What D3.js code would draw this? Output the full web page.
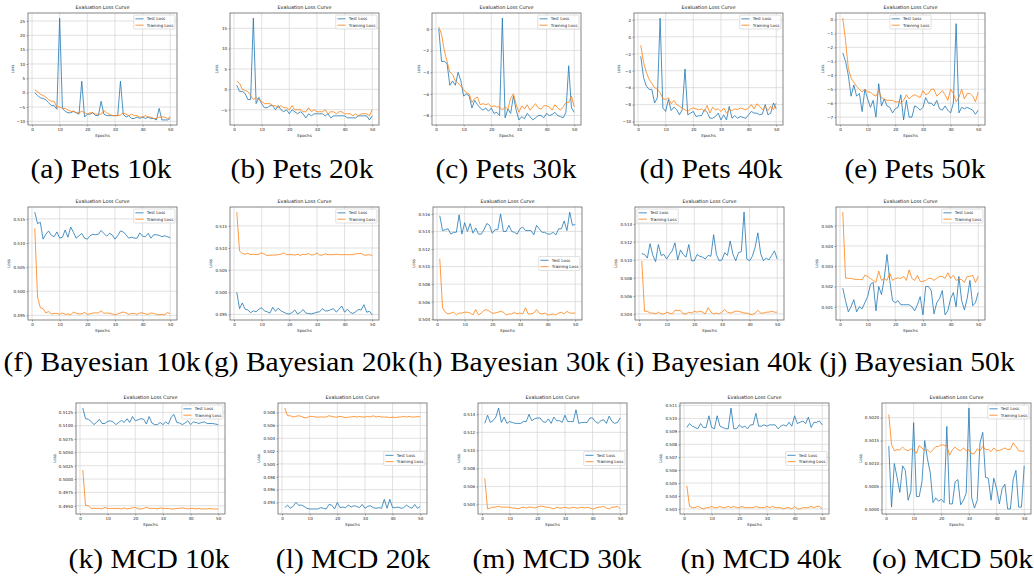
<!DOCTYPE html>
<html>
<head>
<meta charset="utf-8">
<script src="https://cdn.jsdelivr.net/npm/d3@7"></script>
<style>
  body { margin: 0; background: #fff; }
  svg { display: block; }
  .cap { font-family: "Liberation Serif", "Times New Roman", serif; }
  .small { font-family: "DejaVu Sans", sans-serif; }
</style>
</head>
<body>
<svg id="fig" width="1034" height="579"></svg>
<script>
// ---- data ----
const epochs = d3.range(1, 51);
const xTicks = [0, 10, 20, 30, 40, 50];

const captions = [
  "(a) Pets 10k", "(b) Pets 20k", "(c) Pets 30k", "(d) Pets 40k", "(e) Pets 50k",
  "(f) Bayesian 10k", "(g) Bayesian 20k", "(h) Bayesian 30k", "(i) Bayesian 40k", "(j) Bayesian 50k",
  "(k) MCD 10k", "(l) MCD 20k", "(m) MCD 30k", "(n) MCD 40k", "(o) MCD 50k"
];

const testA = [0, -1, -1.8, -2, -2.5, -3.5, -4.5, -4.5, -5.8, 26,
  -5.5, -6.5, -7, -7, -6.5, -7, -7.5, 4, -8.5, -7.5,
  -7.5, -7, -8, -8, -3, -7.5, -8, -8, -8, -8,
  -8, 4, -7.5, -8.5, -8, -9, -9, -8.5, -9, -8.5,
  -9, -8.5, -9, -9, -9.5, -5.5, -9.5, -9.5, -9.5, -9];
const trainA = [1, 0.3, -0.5, -1, -1.5, -2.5, -3, -3, -5, -5,
  -5.5, -5.5, -6, -6.5, -6.5, -7, -7, -6.5, -7, -7.5,
  -7, -7, -7.5, -7.5, -7.5, -6.2, -7, -7.5, -8, -8,
  -8, -7.8, -7, -7.5, -8, -7.5, -8, -8, -8.5, -8.5,
  -8, -8.5, -8.5, -9, -9, -8.5, -8.5, -8.5, -9, -8.5];

const testB = [1, -0.5, -0.5, -1, -2.5, -2.5, 17.5, -3.5, -2, -3.5,
  -4.5, -4.5, -4, -4, -5, -4, -5, -5.5, -5, -6,
  -5, -5.5, -6, -5.5, -6, -7, -6, -6.5, -6, -6,
  -6, -6, -6.5, -6, -7, -6.5, -6.5, -6.5, -6.5, -6.5,
  -7, -7, -7, -7, -6.5, -6.5, -6.5, -6.5, -7.5, -6.5];
const trainB = [2, 1.5, 0, -0.3, -0.5, -1.5, -2.5, -2, -2.5, -3,
  -3.5, -3.5, -3.5, -4, -4, -4.5, -4, -4.5, -4.5, -5,
  -4, -5, -5, -5, -5.5, -5.5, -4.5, -5.5, -5, -5.5,
  -5.5, -5.5, -5, -6, -5.5, -5.5, -6, -5.5, -5.5, -6,
  -6, -6, -6.5, -6, -6.5, -6, -6, -6, -6.5, -5];

const testC = [0, -3, -3, -3.2, -5.2, -4.8, -5.2, -4, -4.8, -6.2,
  -6, -6.2, -7.3, -6.6, -7, -7.3, -7.5, -7.3, -7.6, -7.3,
  -7.8, -7.7, -8, 1, -8.2, -7.4, -7.8, -6.2, -7.5, -8.4,
  -8.1, -8.3, -7.8, -8.1, -8.4, -8.2, -8, -8, -8.2, -7.8,
  -8, -7.9, -7.7, -8, -8.1, -8.2, -7.7, -3.4, -7.3, -7.7];
const trainC = [0.2, -0.5, -2, -3, -4, -4.2, -4.8, -5, -5.3, -5.6,
  -5.9, -6, -6.8, -6.4, -6.3, -7, -6.9, -7, -6.9, -7.2,
  -7.1, -7.2, -7.2, -7.5, -7.2, -7.4, -6.4, -6, -7, -7.7,
  -7.1, -7.4, -7, -7.5, -7.2, -6.9, -7.3, -7.4, -7.1, -7.1,
  -7.2, -7.5, -7, -7.3, -7.5, -7.2, -6.8, -6.8, -6.2, -7.2];

const testD = [-2.3, -4.8, -5.8, -6.2, -6.2, -7.8, -7.2, 2.2, -8.4, -8.8,
  -7.4, -8.7, -8.3, -8.6, -9.2, -8.6, -3.8, -9.2, -9, -8.8,
  -9.4, -9.3, -9.3, -8.6, -8.9, -9.6, -9.6, -9.4, -9, -9.8,
  -9.2, -9.8, -8.2, -9.6, -9.3, -9.6, -9.4, -9.5, -9.6, -9.2,
  -8.8, -9, -9, -9.2, -9.1, -8, -9.2, -9, -7.8, -8.5];
const trainD = [-1, -3, -4.2, -5, -5.5, -6, -6.2, -6.6, -7.3, -7.4,
  -7.2, -7.9, -7.5, -8, -8.2, -8.4, -8.6, -8.8, -8.5, -8.4,
  -8.5, -8.6, -8.5, -8.8, -8.1, -9, -8.3, -8.6, -8.5, -8.8,
  -8.4, -9, -8.6, -8.7, -8.5, -8.6, -8.4, -8.5, -8.6, -8.4,
  -8, -8.5, -7.9, -8.2, -8.6, -8.2, -8.7, -8.2, -8.6, -7.8];

const testE = [-2.4, -3, -4, -5.5, -4.7, -5.5, -5.3, -6.6, -5, -5.7,
  -6.3, -5.8, -7, -4.6, -6.2, -5.7, -6.2, -6.3, -6.7, -6.4,
  -6.3, -5.4, -7.2, -5.8, -7, -7, -6.2, -6.3, -6.5, -6.3,
  -5.6, -6, -6, -6.2, -5.8, -6.4, -6.5, -6.2, -6.5, -6.7,
  -6, -0.3, -6.7, -6.3, -6.4, -6.3, -6.4, -6.5, -6.8, -6.5];
const trainE = [0.1, -1.5, -3.5, -4.2, -4.5, -4.8, -5, -5.2, -5, -5.2,
  -5.2, -5.4, -5.5, -5.1, -5.6, -5.7, -5.8, -5.8, -5.8, -5.9,
  -5.9, -6, -5.8, -5.4, -5.7, -5.5, -5.4, -5.5, -5.6, -5.1,
  -5.4, -5.3, -5, -5, -5.5, -5.3, -5.1, -5.4, -5.8, -5,
  -5.3, -5.9, -5.6, -5, -5.7, -5.3, -5.3, -5.5, -5.9, -5.2];

const testF = [0.5164, 0.5140, 0.5143, 0.5108, 0.5118, 0.5125, 0.5116, 0.5113, 0.5123, 0.5110,
  0.5112, 0.5127, 0.5112, 0.5133, 0.5122, 0.5110, 0.5115, 0.5120, 0.5110, 0.5108,
  0.5115, 0.5118, 0.5117, 0.5118, 0.5126, 0.5120, 0.5114, 0.5120, 0.5117, 0.5108,
  0.5115, 0.5125, 0.5123, 0.5117, 0.5110, 0.5112, 0.5110, 0.5110, 0.5121, 0.5114,
  0.5113, 0.5120, 0.5110, 0.5117, 0.5117, 0.5116, 0.5113, 0.5115, 0.5113, 0.5111];
const trainF = [0.5130, 0.4988, 0.4966, 0.4964, 0.4955, 0.4958, 0.4953, 0.4954, 0.4954, 0.4952,
  0.4955, 0.4952, 0.4953, 0.4951, 0.4957, 0.4954, 0.4953, 0.4953, 0.4956, 0.4952,
  0.4953, 0.4955, 0.4955, 0.4955, 0.4959, 0.4954, 0.4955, 0.4954, 0.4953, 0.4951,
  0.4953, 0.4955, 0.4957, 0.4955, 0.4952, 0.4954, 0.4954, 0.4952, 0.4955, 0.4955,
  0.4953, 0.4952, 0.4955, 0.4954, 0.4952, 0.4951, 0.4952, 0.4951, 0.4956, 0.4953];

const testG = [0.5000, 0.4963, 0.4976, 0.4962, 0.4960, 0.4954, 0.4958, 0.4956, 0.4962, 0.4965,
  0.4958, 0.4956, 0.4953, 0.4966, 0.4957, 0.4964, 0.4958, 0.4955, 0.4952, 0.4951,
  0.4954, 0.4960, 0.4951, 0.4955, 0.4961, 0.4953, 0.4952, 0.4951, 0.4953, 0.4955,
  0.4956, 0.4963, 0.4958, 0.4958, 0.4961, 0.4963, 0.4955, 0.4962, 0.4969, 0.4955,
  0.4962, 0.4955, 0.4952, 0.4956, 0.4961, 0.4960, 0.4972, 0.4955, 0.4957, 0.4949];
const trainG = [0.5181, 0.5093, 0.5088, 0.5086, 0.5088, 0.5085, 0.5086, 0.5085, 0.5086, 0.5089,
  0.5086, 0.5083, 0.5084, 0.5084, 0.5084, 0.5085, 0.5086, 0.5089, 0.5085, 0.5085,
  0.5085, 0.5084, 0.5086, 0.5083, 0.5086, 0.5085, 0.5088, 0.5084, 0.5085, 0.5089,
  0.5084, 0.5084, 0.5087, 0.5085, 0.5085, 0.5085, 0.5086, 0.5085, 0.5085, 0.5085,
  0.5085, 0.5085, 0.5085, 0.5087, 0.5087, 0.5088, 0.5084, 0.5084, 0.5085, 0.5083];

const testH = [0.5158, 0.5141, 0.5142, 0.5143, 0.5137, 0.5139, 0.5139, 0.5159, 0.5137, 0.5150,
  0.5140, 0.5149, 0.5138, 0.5144, 0.5137, 0.5137, 0.5142, 0.5149, 0.5147, 0.5138,
  0.5142, 0.5142, 0.5160, 0.5140, 0.5140, 0.5147, 0.5140, 0.5139, 0.5137, 0.5143,
  0.5145, 0.5141, 0.5141, 0.5141, 0.5136, 0.5147, 0.5143, 0.5139, 0.5139, 0.5137,
  0.5137, 0.5139, 0.5136, 0.5143, 0.5143, 0.5152, 0.5141, 0.5162, 0.5147, 0.5148];
const trainH = [0.5109, 0.5053, 0.5048, 0.5046, 0.5047, 0.5048, 0.5045, 0.5047, 0.5047, 0.5048,
  0.5048, 0.5047, 0.5045, 0.5051, 0.5045, 0.5047, 0.5050, 0.5051, 0.5049, 0.5047,
  0.5047, 0.5048, 0.5049, 0.5048, 0.5045, 0.5046, 0.5046, 0.5048, 0.5046, 0.5047,
  0.5046, 0.5053, 0.5046, 0.5046, 0.5047, 0.5051, 0.5047, 0.5046, 0.5047, 0.5045,
  0.5045, 0.5046, 0.5045, 0.5047, 0.5048, 0.5046, 0.5049, 0.5047, 0.5047, 0.5047];

const testI = [0.5107, 0.5106, 0.5102, 0.5118, 0.5105, 0.5098, 0.5117, 0.5105, 0.5106, 0.5101,
  0.5106, 0.5110, 0.5119, 0.5100, 0.5111, 0.5106, 0.5103, 0.5117, 0.5099, 0.5099,
  0.5106, 0.5104, 0.5103, 0.5101, 0.5105, 0.5104, 0.5128, 0.5106, 0.5099, 0.5100,
  0.5108, 0.5105, 0.5121, 0.5106, 0.5099, 0.5108, 0.5109, 0.5153, 0.5101, 0.5099,
  0.5104, 0.5114, 0.5130, 0.5107, 0.5099, 0.5102, 0.5100, 0.5105, 0.5110, 0.5101];
const trainI = [0.5099, 0.5043, 0.5043, 0.5041, 0.5041, 0.5040, 0.5042, 0.5040, 0.5040, 0.5042,
  0.5041, 0.5040, 0.5044, 0.5044, 0.5044, 0.5040, 0.5040, 0.5042, 0.5041, 0.5043,
  0.5042, 0.5043, 0.5042, 0.5040, 0.5047, 0.5042, 0.5040, 0.5041, 0.5040, 0.5042,
  0.5045, 0.5042, 0.5041, 0.5042, 0.5043, 0.5043, 0.5042, 0.5041, 0.5041, 0.5040,
  0.5039, 0.5041, 0.5044, 0.5041, 0.5041, 0.5042, 0.5042, 0.5043, 0.5042, 0.5042];

const testJ = [0.50192, 0.50130, 0.50075, 0.50100, 0.50135, 0.50075, 0.50100, 0.50090, 0.50120, 0.50150,
  0.50210, 0.50220, 0.50080, 0.50200, 0.50160, 0.50240, 0.50358, 0.50230, 0.50130, 0.50120,
  0.50130, 0.50110, 0.50110, 0.50110, 0.50110, 0.50100, 0.50080, 0.50110, 0.50150, 0.50060,
  0.50200, 0.50200, 0.50180, 0.50065, 0.50120, 0.50140, 0.50180, 0.50060, 0.50080, 0.50140,
  0.50170, 0.50100, 0.50250, 0.50130, 0.50085, 0.50140, 0.50230, 0.50105, 0.50120, 0.50170];
const trainJ = [0.50567, 0.50242, 0.50240, 0.50240, 0.50236, 0.50235, 0.50235, 0.50233, 0.50256, 0.50250,
  0.50240, 0.50230, 0.50220, 0.50276, 0.50230, 0.50240, 0.50230, 0.50266, 0.50230, 0.50240,
  0.50242, 0.50240, 0.50250, 0.50230, 0.50282, 0.50240, 0.50230, 0.50255, 0.50225, 0.50225,
  0.50230, 0.50240, 0.50240, 0.50230, 0.50240, 0.50250, 0.50250, 0.50240, 0.50268, 0.50240,
  0.50255, 0.50230, 0.50236, 0.50234, 0.50220, 0.50250, 0.50250, 0.50255, 0.50220, 0.50250];

const testK = [0.5133, 0.5113, 0.5112, 0.5108, 0.5102, 0.5106, 0.5112, 0.5104, 0.5104, 0.5108,
  0.5109, 0.5107, 0.5102, 0.5106, 0.5110, 0.5106, 0.5113, 0.5106, 0.5117, 0.5109,
  0.5111, 0.5113, 0.5112, 0.5103, 0.5117, 0.5105, 0.5102, 0.5102, 0.5106, 0.5102,
  0.5107, 0.5103, 0.5116, 0.5121, 0.5106, 0.5105, 0.5102, 0.5105, 0.5109, 0.5102,
  0.5107, 0.5106, 0.5104, 0.5106, 0.5107, 0.5104, 0.5104, 0.5104, 0.5103, 0.5102];
const trainK = [0.5017, 0.4951, 0.4950, 0.4945, 0.4945, 0.4945, 0.4945, 0.4944, 0.4947, 0.4945,
  0.4945, 0.4945, 0.4945, 0.4945, 0.4944, 0.4946, 0.4944, 0.4945, 0.4946, 0.4947,
  0.4944, 0.4944, 0.4945, 0.4947, 0.4945, 0.4945, 0.4945, 0.4944, 0.4946, 0.4945,
  0.4945, 0.4945, 0.4944, 0.4944, 0.4945, 0.4945, 0.4946, 0.4945, 0.4944, 0.4945,
  0.4945, 0.4944, 0.4945, 0.4944, 0.4944, 0.4944, 0.4945, 0.4944, 0.4944, 0.4944];

const testL = [0.4932, 0.4936, 0.4931, 0.4934, 0.4940, 0.4936, 0.4936, 0.4934, 0.4931, 0.4930,
  0.4930, 0.4930, 0.4930, 0.4932, 0.4931, 0.4930, 0.4937, 0.4936, 0.4930, 0.4940,
  0.4932, 0.4933, 0.4932, 0.4936, 0.4933, 0.4935, 0.4934, 0.4932, 0.4937, 0.4931,
  0.4934, 0.4935, 0.4932, 0.4931, 0.4932, 0.4931, 0.4945, 0.4931, 0.4945, 0.4932,
  0.4932, 0.4933, 0.4931, 0.4932, 0.4936, 0.4933, 0.4931, 0.4937, 0.4931, 0.4934];
const trainL = [0.5087, 0.5075, 0.5075, 0.5073, 0.5074, 0.5075, 0.5074, 0.5072, 0.5072, 0.5074,
  0.5074, 0.5073, 0.5073, 0.5073, 0.5073, 0.5073, 0.5075, 0.5074, 0.5073, 0.5073,
  0.5074, 0.5073, 0.5072, 0.5073, 0.5073, 0.5074, 0.5073, 0.5074, 0.5073, 0.5073,
  0.5074, 0.5073, 0.5075, 0.5073, 0.5074, 0.5073, 0.5073, 0.5073, 0.5072, 0.5073,
  0.5072, 0.5073, 0.5073, 0.5074, 0.5073, 0.5074, 0.5073, 0.5073, 0.5074, 0.5073];

const testM = [0.5130, 0.5139, 0.5131, 0.5133, 0.5137, 0.5147, 0.5131, 0.5137, 0.5130, 0.5132,
  0.5131, 0.5130, 0.5130, 0.5130, 0.5132, 0.5132, 0.5140, 0.5133, 0.5135, 0.5136,
  0.5136, 0.5132, 0.5131, 0.5135, 0.5130, 0.5137, 0.5133, 0.5133, 0.5131, 0.5139,
  0.5132, 0.5132, 0.5132, 0.5145, 0.5130, 0.5131, 0.5131, 0.5131, 0.5136, 0.5136,
  0.5132, 0.5130, 0.5133, 0.5134, 0.5130, 0.5138, 0.5132, 0.5130, 0.5131, 0.5136];
const trainM = [0.5069, 0.5035, 0.5036, 0.5037, 0.5037, 0.5038, 0.5037, 0.5037, 0.5037, 0.5037,
  0.5036, 0.5036, 0.5035, 0.5036, 0.5037, 0.5036, 0.5037, 0.5037, 0.5036, 0.5037,
  0.5038, 0.5038, 0.5037, 0.5037, 0.5036, 0.5035, 0.5037, 0.5036, 0.5036, 0.5037,
  0.5036, 0.5036, 0.5037, 0.5036, 0.5036, 0.5037, 0.5036, 0.5037, 0.5036, 0.5035,
  0.5036, 0.5037, 0.5037, 0.5038, 0.5036, 0.5035, 0.5037, 0.5037, 0.5038, 0.5035];

const testN = [0.5093, 0.5096, 0.5094, 0.5093, 0.5092, 0.5096, 0.5093, 0.5093, 0.5102, 0.5093,
  0.5092, 0.5102, 0.5094, 0.5093, 0.5092, 0.5092, 0.5108, 0.5092, 0.5092, 0.5095,
  0.5093, 0.5094, 0.5092, 0.5095, 0.5095, 0.5104, 0.5094, 0.5094, 0.5095, 0.5094,
  0.5095, 0.5095, 0.5095, 0.5092, 0.5094, 0.5095, 0.5094, 0.5097, 0.5094, 0.5102,
  0.5096, 0.5097, 0.5098, 0.5096, 0.5101, 0.5093, 0.5097, 0.5097, 0.5098, 0.5095];
const trainN = [0.5048, 0.5032, 0.5031, 0.5031, 0.5032, 0.5031, 0.5030, 0.5031, 0.5031, 0.5032,
  0.5031, 0.5031, 0.5032, 0.5031, 0.5031, 0.5032, 0.5031, 0.5032, 0.5031, 0.5031,
  0.5032, 0.5031, 0.5031, 0.5031, 0.5031, 0.5032, 0.5031, 0.5031, 0.5031, 0.5032,
  0.5031, 0.5032, 0.5031, 0.5031, 0.5031, 0.5030, 0.5031, 0.5031, 0.5030, 0.5032,
  0.5030, 0.5030, 0.5031, 0.5031, 0.5031, 0.5032, 0.5031, 0.5032, 0.5032, 0.5030];

const testO = [0.50138, 0.50005, 0.50100, 0.50070, 0.50037, 0.50095, 0.50085, 0.50020, 0.50040, 0.50189,
  0.50028, 0.50028, 0.50060, 0.50150, 0.50110, 0.50080, 0.50015, 0.50025, 0.50018, 0.50022,
  0.50015, 0.50181, 0.50012, 0.50012, 0.50060, 0.50065, 0.50010, 0.50020, 0.50035, 0.50221,
  0.50025, 0.50003, 0.50020, 0.50145, 0.50168, 0.50070, 0.50068, 0.50020, 0.50068, 0.50045,
  0.50012, 0.50045, 0.50055, 0.50001, 0.50001, 0.50065, 0.50085, 0.50005, 0.50005, 0.50095];
const trainO = [0.50207, 0.50141, 0.50128, 0.50130, 0.50130, 0.50136, 0.50130, 0.50128, 0.50132, 0.50130,
  0.50122, 0.50139, 0.50134, 0.50128, 0.50130, 0.50124, 0.50130, 0.50137, 0.50137, 0.50141,
  0.50140, 0.50138, 0.50118, 0.50130, 0.50136, 0.50130, 0.50128, 0.50134, 0.50128, 0.50130,
  0.50121, 0.50122, 0.50132, 0.50127, 0.50138, 0.50130, 0.50131, 0.50126, 0.50134, 0.50128,
  0.50128, 0.50131, 0.50134, 0.50130, 0.50131, 0.50145, 0.50137, 0.50128, 0.50127, 0.50127];

const testSeries = [testA, testB, testC, testD, testE, testF, testG, testH, testI, testJ, testK, testL, testM, testN, testO];
const trainSeries = [trainA, trainB, trainC, trainD, trainE, trainF, trainG, trainH, trainI, trainJ, trainK, trainL, trainM, trainN, trainO];

const yTicks = [
  [-10, -5, 0, 5, 10, 15, 20, 25],
  [-5, 0, 5, 10, 15],
  [-8, -6, -4, -2, 0],
  [-10, -8, -6, -4, -2, 0, 2],
  [-7, -6, -5, -4, -3, -2, -1, 0],
  [0.495, 0.500, 0.505, 0.510, 0.515],
  [0.495, 0.500, 0.505, 0.510, 0.515],
  [0.504, 0.506, 0.508, 0.510, 0.512, 0.514, 0.516],
  [0.504, 0.506, 0.508, 0.510, 0.512, 0.514],
  [0.501, 0.502, 0.503, 0.504, 0.505],
  [0.4950, 0.4975, 0.5000, 0.5025, 0.5050, 0.5075, 0.5100, 0.5125],
  [0.494, 0.496, 0.498, 0.500, 0.502, 0.504, 0.506, 0.508],
  [0.504, 0.506, 0.508, 0.510, 0.512, 0.514],
  [0.503, 0.504, 0.505, 0.506, 0.507, 0.508, 0.509, 0.510, 0.511],
  [0.5000, 0.5005, 0.5010, 0.5015, 0.5020]
];
const yFormats = ["d", "d", "d", "d", "d", ".3f", ".3f", ".3f", ".3f", ".3f", ".4f", ".3f", ".3f", ".3f", ".4f"];
const legendLoc = ["upper right", "upper right", "upper right", "upper right", "upper center",
  "upper right", "upper right", "center right", "upper left", "upper right",
  "upper right", "center right", "center right", "center right", "upper right"];
const seriesNames = ["Test Loss", "Training Loss"];

// ---- layout ----
const colLeft = [[28, 230, 432, 634, 836], [28, 230, 433, 635, 836], [76, 278, 478, 680, 882]];
const rowTop = [13, 207, 403];
const rowH = [112, 113, 111];
const axW = 149;
const capX = [[101, 302, 506, 711, 915], [102, 305, 509, 714, 917], [149, 353, 557, 761, 960]];
const capBase = [178, 371, 568];

const blue = "#1f77b4", orange = "#ff7f0e";
const fs = 4.1;
const capScale = 1.12;

const svg = d3.select("#fig");
svg.append("rect").attr("width", 1034).attr("height", 579).attr("fill", "#fff");

const line = (x, y) => d3.line().x((d, j) => x(epochs[j])).y(d => y(d));

captions.forEach((cap, i) => {
  const r = Math.floor(i / 5), c = i % 5;
  const left = colLeft[r][c], top = rowTop[r], h = rowH[r];
  const test = testSeries[i], train = trainSeries[i];
  const [lo, hi] = d3.extent(test.concat(train));
  const pad = (hi - lo) * 0.05;

  const x = d3.scaleLinear().domain([1 - 49 * 0.05, 50 + 49 * 0.05]).range([left, left + axW]);
  const y = d3.scaleLinear().domain([lo - pad, hi + pad]).range([top + h, top]);

  const g = svg.append("g");

  // grid
  g.selectAll(".gx").data(xTicks).join("line")
    .attr("x1", d => x(d)).attr("x2", d => x(d))
    .attr("y1", top).attr("y2", top + h)
    .attr("stroke", "#d4d4d4").attr("stroke-width", 0.7);
  g.selectAll(".gy").data(yTicks[i]).join("line")
    .attr("x1", left).attr("x2", left + axW)
    .attr("y1", d => y(d)).attr("y2", d => y(d))
    .attr("stroke", "#d4d4d4").attr("stroke-width", 0.7);

  // lines
  g.append("path").datum(test)
    .attr("fill", "none").attr("stroke", blue).attr("stroke-width", 0.8)
    .attr("d", line(x, y));
  g.append("path").datum(train)
    .attr("fill", "none").attr("stroke", orange).attr("stroke-width", 0.8)
    .attr("d", line(x, y));

  // axes
  const ax = g.append("g")
    .attr("transform", `translate(0,${top + h})`)
    .call(d3.axisBottom(x).tickValues(xTicks).tickFormat(d3.format("d")).tickSize(1.5).tickPadding(1.4).tickSizeOuter(0));
  const ay = g.append("g")
    .attr("transform", `translate(${left},0)`)
    .call(d3.axisLeft(y).tickValues(yTicks[i]).tickFormat(d3.format(yFormats[i])).tickSize(1.5).tickPadding(1.4).tickSizeOuter(0));
  [ax, ay].forEach(a => {
    a.attr("font-size", fs).attr("font-family", null).attr("class", "small");
    a.select(".domain").remove();
    a.selectAll("line").attr("stroke", "#444").attr("stroke-width", 0.5);
    a.selectAll("text").attr("fill", "#222");
  });

  // spines
  g.append("rect")
    .attr("x", left).attr("y", top).attr("width", axW).attr("height", h)
    .attr("fill", "none").attr("stroke", "#666").attr("stroke-width", 0.8);

  // labels
  g.append("text").attr("class", "small")
    .attr("x", left + axW / 2).attr("y", top - 3.6)
    .attr("text-anchor", "middle").attr("font-size", 4.9).attr("fill", "#222")
    .text("Evaluation Loss Curve");
  g.append("text").attr("class", "small")
    .attr("x", left + axW / 2).attr("y", top + h + 12.3)
    .attr("text-anchor", "middle").attr("font-size", fs).attr("fill", "#222")
    .text("Epochs");
  let maxW = 0;
  ay.selectAll("text").each(function () { maxW = Math.max(maxW, this.getComputedTextLength()); });
  g.append("text").attr("class", "small")
    .attr("transform", `translate(${left - maxW - 5.8},${top + h / 2}) rotate(-90)`)
    .attr("text-anchor", "middle").attr("font-size", fs).attr("fill", "#222")
    .text("Loss");

  // legend
  const bp = 0.4 * fs, hl = 2 * fs, htp = 0.8 * fs, ls = 0.5 * fs, bap = 0.5 * fs, rh = 1.05 * fs;
  const lg = g.append("g");
  const labels = lg.selectAll("text").data(seriesNames).join("text")
    .attr("class", "small").attr("font-size", fs).attr("fill", "#222")
    .text(d => d);
  let tw = 0;
  labels.each(function () { tw = Math.max(tw, this.getComputedTextLength()); });
  const bw = 2 * bp + hl + htp + tw, bh = 2 * bp + 2 * rh + ls;
  const loc = legendLoc[i];
  let bx, by;
  if (loc.endsWith("right")) bx = left + axW - bap - bw;
  else if (loc.endsWith("left")) bx = left + bap;
  else bx = left + axW / 2 - bw / 2;
  if (loc.startsWith("upper")) by = top + bap;
  else by = top + h / 2 - bh / 2;
  lg.insert("rect", "text")
    .attr("x", bx).attr("y", by).attr("width", bw).attr("height", bh).attr("rx", 0.8)
    .attr("fill", "#fff").attr("fill-opacity", 0.8)
    .attr("stroke", "#cccccc").attr("stroke-width", 0.6);
  const rowY = j => by + bp + rh / 2 + j * (rh + ls);
  lg.selectAll("line").data([blue, orange]).join("line")
    .attr("x1", bx + bp).attr("x2", bx + bp + hl)
    .attr("y1", (d, j) => rowY(j)).attr("y2", (d, j) => rowY(j))
    .attr("stroke", d => d).attr("stroke-width", 0.8);
  labels.attr("x", bx + bp + hl + htp).attr("y", (d, j) => rowY(j) + 0.36 * fs);

  // caption, kept inside the page on the right
  const ct = svg.append("text").attr("class", "cap")
    .attr("text-anchor", "middle").attr("font-size", 26.4).attr("fill", "#000")
    .text(cap);
  const half = ct.node().getComputedTextLength() * capScale / 2;
  const cx = Math.min(capX[r][c], 1033 - half);
  ct.attr("transform", `translate(${cx},${capBase[r]}) scale(${capScale},1)`);
});
</script>
</body>
</html>
